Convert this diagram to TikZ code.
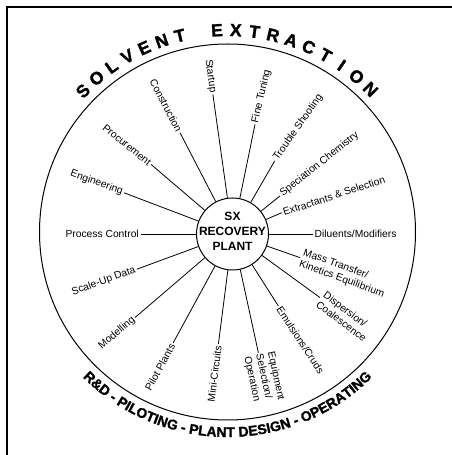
\documentclass[tikz,border=0pt]{standalone}
\usepackage{fontspec}
\setmainfont{Liberation Sans}
\newfontfamily\heavyfont[FakeBold=1.6]{Liberation Sans Bold}
\usetikzlibrary{calc,decorations.text}
\begin{document}
\begin{tikzpicture}[x=1pt,y=1pt,
  lbl/.style={font=\fontsize{10.3}{12}\selectfont, inner sep=1.5pt, align=left},
  spoke/.style={line width=0.8pt},
  ring/.style={draw, circle, line width=1pt, inner sep=0pt},
  ttl/.style={font=\fontsize{17.5}{18}\selectfont\heavyfont, inner sep=0pt},
  ctxt/.style={font=\fontsize{12}{15}\selectfont\bfseries, align=center, inner sep=0pt}]
\useasboundingbox (0,0) rectangle (452,455);
\coordinate (bc) at (227.5,223);
\coordinate (sc) at (232.5,221);
% frame (top and left edges visible)
\draw[line width=1.6pt] (7,0) -- (7,448) -- (452,448);
% outer ring
\node[ring, minimum size=376pt] (big) at (bc) {};
% centre
\node[ring, minimum size=72pt] (c) at (sc) {};
\node[ctxt] (ct) at ($(sc)+(0,2.5)$) {SX\\RECOVERY\\PLANT};
% spokes
\newcommand\spk[6]{%
  \node[lbl, rotate=#4, anchor=#5] (#1) at ($(sc)+(#2:#3)$) {#6};
  \draw[spoke] (c) -- (#1.#5);}
\spk{startup}{98}{141}{-82}{east}{Startup}
\spk{constr}{117.4}{114}{-62.6}{east}{Construction}
\spk{procur}{139.5}{107}{-39}{east}{Procurement}
\spk{engin}{159.2}{116}{-20}{east}{Engineering}
\spk{proc}{180}{92}{0}{east}{Process Control}
\spk{scale}{200.2}{102}{20}{east}{Scale-Up Data}
\spk{model}{220.6}{128.5}{40.6}{east}{Modelling}
\spk{pilot}{241.4}{124}{61.4}{east}{Pilot Plants}
\spk{mini}{262.7}{111}{82.7}{east}{Mini-Circuits}
\spk{equip}{-77.7}{121.5}{-77.7}{west}{Equipment\\Selection/\\Operation}
\spk{emul}{-57.5}{85.3}{-57}{west}{Emulsions/Cruds}
\spk{disp}{-36}{108}{-37}{west}{Dispersion/\\Coalescence}
\spk{mass}{-19.3}{71.5}{-20}{west}{Mass Transfer/\\Kinetics Equilibrium}
\spk{dil}{0}{80.5}{0}{west}{Diluents/Modifiers}
\spk{extr}{23.4}{53.6}{18}{west}{Extractants \& Selection}
\spk{spec}{38.7}{61}{38.7}{west}{Speciation Chemistry}
\spk{trouble}{60}{84.5}{55}{west}{Trouble Shooting}
\spk{fine}{78.4}{112}{77}{west}{Fine Tuning}
% title on top arc
\foreach \l [count=\i] in {S,O,L,V,E,N,T,{},E,X,T,R,A,C,T,I,O,N}{
  \pgfmathsetmacro\ang{135.7-5.34*(\i-1)}
  \node[ttl, rotate=\ang-90] (t\i) at ($(bc)+(\ang:202)$) {\l};
}
% bottom arc text
\path[decorate, decoration={text along path, text align=center,
  text={|\fontsize{14}{14}\selectfont\heavyfont|R{\&}D - PILOTING - PLANT DESIGN - OPERATING}}]
  ($(bc)+(200:205)$) arc[start angle=200, end angle=340, radius=205];
\end{tikzpicture}
\end{document}
